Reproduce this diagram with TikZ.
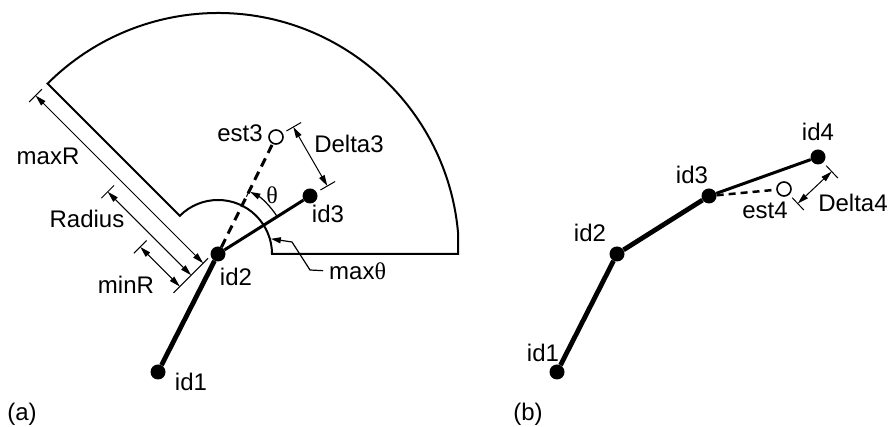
\documentclass[tikz,border=0pt]{standalone}
\usepackage{fontspec}
\setmainfont{Liberation Sans}
\newfontfamily\serifth{Liberation Serif}
\usetikzlibrary{calc,arrows.meta}
\tikzset{
  pt/.style={circle, fill=black, inner sep=0pt, minimum size=15pt},
  est/.style={circle, draw=black, fill=white, line width=1.6pt, inner sep=0pt, minimum size=14pt},
  lbl/.style={inner sep=0pt, font=\fontsize{24}{28}\selectfont},
  thk/.style={line width=4.8pt},
  med/.style={line width=3pt},
  dsh/.style={line width=3pt, dash pattern=on 9pt off 6pt},
  dsht/.style={line width=2.5pt, dash pattern=on 7pt off 5pt},
  dim/.style={line width=1pt, {Triangle[length=11pt,width=6pt]}-{Triangle[length=11pt,width=6pt]}},
  tk/.style={line width=1pt},
  ldr/.style={line width=1.2pt, -{Triangle[length=10pt,width=6pt]}},
  outline/.style={line width=2pt, line join=miter},
}
\begin{document}
\begin{tikzpicture}[x=1pt,y=1pt]
\useasboundingbox (0,0) rectangle (891,427);
% ---------------- (a) ----------------
\coordinate (C) at (218,173);
% sector
\draw[outline] ($(C)+(0:54)$) -- ($(C)+(0:240)$) -- ($(C)+(5.2:241)$)
  arc[start angle=5.2, end angle=135, radius=241]
  -- ($(C)+(135:54)$) arc[start angle=135, end angle=0, radius=54] -- cycle;
% nodes
\node[pt] (a1) at (158,55) {};
\node[pt] (a2) at (C) {};
\node[pt] (a3) at (310,231) {};
\node[est] (e3) at (276,290) {};
\draw[thk] (a1) -- (a2);
\draw[med] (a2) -- (a3);
\draw[dsh] (a2) -- (e3);
% dimension lines (radial frame)
\begin{scope}[shift={(C)}, rotate=135]
  \coordinate (b0) at (4,10);
  \coordinate (b1) at (4,59);
  \coordinate (mxA) at (4,17);  \coordinate (mxB) at (241,17);
  \coordinate (mxT1) at (241,8); \coordinate (mxT2) at (241,26);
  \coordinate (raA) at (4,34);  \coordinate (raB) at (122,34);
  \coordinate (raT1) at (122,25); \coordinate (raT2) at (122,43);
  \coordinate (mnA) at (4,50);  \coordinate (mnB) at (60,50);
  \coordinate (mnT1) at (60,41); \coordinate (mnT2) at (60,59);
\end{scope}
\draw[tk] (b0) -- (b1);
\draw[tk] (mxT1) -- (mxT2);
\draw[tk] (raT1) -- (raT2);
\draw[tk] (mnT1) -- (mnT2);
\draw[dim] (mxA) -- (mxB);
\draw[dim] (raA) -- (raB);
\draw[dim] (mnA) -- (mnB);
% theta arc
\coordinate (thS) at ($(C)+(32.2:70)$);
\draw[ldr] (thS) arc[start angle=32.2, end angle=62.5, radius=70];
\draw[tk] ($(C)+(63.6:64)$) -- ($(C)+(63.6:76)$);
% Delta3
\coordinate (d3A) at ($(e3.center)!20pt!90:(a3.center)$);
\coordinate (d3B) at ($(a3.center)!20pt!-90:(e3.center)$);
\coordinate (d3t1) at ($(e3.center)!12pt!90:(a3.center)$);
\coordinate (d3t2) at ($(e3.center)!29pt!90:(a3.center)$);
\coordinate (d3t3) at ($(a3.center)!12pt!-90:(e3.center)$);
\coordinate (d3t4) at ($(a3.center)!29pt!-90:(e3.center)$);
\draw[tk] (d3t1) -- (d3t2);
\draw[tk] (d3t3) -- (d3t4);
\draw[dim] (d3A) -- (d3B);
% max theta leader
\node[lbl, anchor=west] (maxth) at (329,156) {max{\serifth θ}};
\coordinate (l1) at (310,157);
\coordinate (l2) at (292,185);
\coordinate (tip) at ($(C)+(16:55)$);
\draw[ldr, shorten <=6pt] (maxth.west) -- (l1) -- (l2) -- (tip);
% labels (a)
\node[lbl] (Lmax) at (48,271) {maxR};
\node[lbl] (Lrad) at (87,208) {Radius};
\node[lbl] (Lmin) at (126,142) {minR};
\node[lbl] (Le3) at (240,294) {est3};
\node[lbl] (Ld3) at (349,283) {Delta3};
\node[lbl] (Lth) at (272,232) {\serifth θ};
\node[lbl] (La3) at (328,213) {id3};
\node[lbl] (La2) at (236,150) {id2};
\node[lbl] (La1) at (191,45) {id1};
\node[lbl] (Lpa) at (22,13) {(a)};
% ---------------- (b) ----------------
\node[pt] (b1n) at (557,55) {};
\node[pt] (b2n) at (617,173) {};
\node[pt] (b3n) at (709,231) {};
\node[pt] (b4n) at (818,270) {};
\node[est] (e4) at (784,238) {};
\draw[thk] (b1n) -- (b2n);
\draw[thk] (b2n) -- (b3n);
\draw[med] (b3n) -- (b4n);
\draw[dsht] (b3n) -- (e4);
% Delta4
\coordinate (d4A) at ($(e4.center)!20pt!-90:(b4n.center)$);
\coordinate (d4B) at ($(b4n.center)!20pt!90:(e4.center)$);
\coordinate (d4t1) at ($(e4.center)!12pt!-90:(b4n.center)$);
\coordinate (d4t2) at ($(e4.center)!29pt!-90:(b4n.center)$);
\coordinate (d4t3) at ($(b4n.center)!12pt!90:(e4.center)$);
\coordinate (d4t4) at ($(b4n.center)!29pt!90:(e4.center)$);
\draw[tk] (d4t1) -- (d4t2);
\draw[tk] (d4t3) -- (d4t4);
\draw[dim] (d4A) -- (d4B);
% labels (b)
\node[lbl] (Lb1) at (543,74) {id1};
\node[lbl] (Lb2) at (590,194) {id2};
\node[lbl] (Lb3) at (692,252) {id3};
\node[lbl] (Lb4) at (818,295) {id4};
\node[lbl] (Le4) at (765,217) {est4};
\node[lbl] (Ld4) at (853,224) {Delta4};
\node[lbl] (Lpb) at (528,13) {(b)};
\end{tikzpicture}
\end{document}
